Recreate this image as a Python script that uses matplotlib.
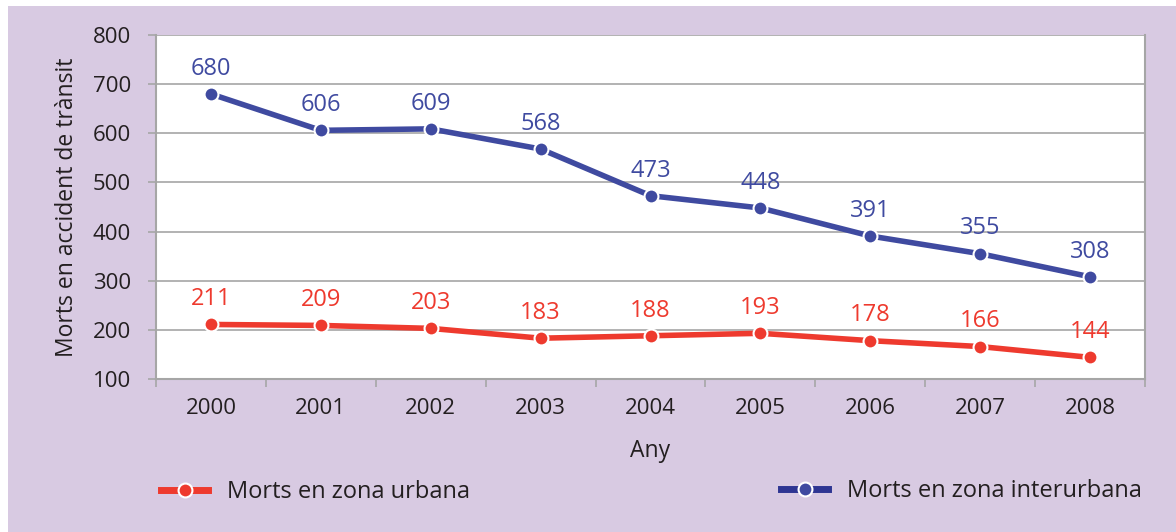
import matplotlib
matplotlib.use("Agg")
import matplotlib.pyplot as plt
from matplotlib.lines import Line2D

years = ["2000", "2001", "2002", "2003", "2004", "2005", "2006", "2007", "2008"]
urbana = [211, 209, 203, 183, 188, 193, 178, 166, 144]
interurbana = [680, 606, 609, 568, 473, 448, 391, 355, 308]
yticks = [100, 200, 300, 400, 500, 600, 700, 800]

plt.rcParams['font.family'] = ['Open Sans', 'DejaVu Sans']
BG = '#D8CAE2'
RED = '#EE3A2E'
BLUE = '#3F4AA0'
TXT = '#231F20'
GRID = '#A6A6A6'

W, H = 1176, 532
fig = plt.figure(figsize=(W/100, H/100), dpi=100, facecolor='white')
fig.patches.append(plt.Rectangle((8/W, 0), 1 - 8/W, 1 - 6/H, transform=fig.transFigure,
                                 facecolor=BG, edgecolor='none', zorder=-10))
ax = fig.add_axes([156/W, 1 - 379/H, (1145-156)/W, (379-35)/H])
ax.set_facecolor('white')

x = list(range(len(years)))
ax.plot(x, interurbana, color=BLUE, lw=4, marker='o', ms=10, mfc=BLUE, mec='white', mew=1.5, zorder=3, solid_capstyle='round')
ax.plot(x, urbana, color=RED, lw=4, marker='o', ms=10, mfc=RED, mec='white', mew=1.5, zorder=3, solid_capstyle='round')

for xi, v in zip(x, interurbana):
    ax.annotate(str(v), (xi, v), xytext=(0, 9.5), textcoords='offset points', ha='center', va='bottom',
                color=BLUE, fontsize=17)
for xi, v in zip(x, urbana):
    ax.annotate(str(v), (xi, v), xytext=(0, 9.5), textcoords='offset points', ha='center', va='bottom',
                color=RED, fontsize=17)

ax.set_xlim(-0.5, len(years) - 0.5)
ax.set_ylim(100, 800)
ax.set_yticks(yticks)
ax.set_yticklabels([str(t) for t in yticks])
ax.yaxis.grid(True, color=GRID, lw=1.2)
ax.set_axisbelow(True)
ax.set_xticks([i - 0.5 for i in range(len(years) + 1)])
ax.set_xticklabels([])
ax.set_xticks(x, minor=True)
ax.set_xticklabels(years, minor=True)
ax.tick_params(axis='x', which='minor', length=0, pad=14, labelsize=16, labelcolor=TXT)
ax.tick_params(axis='x', which='major', length=6, color=GRID, width=1.2, direction='out')
ax.tick_params(axis='y', length=6, color=GRID, width=1.2, direction='out', labelsize=16, labelcolor=TXT, pad=12)
for s in ['left', 'bottom', 'right']:
    ax.spines[s].set_color(GRID)
    ax.spines[s].set_linewidth(1.5)
ax.spines['top'].set_visible(False)

ax.set_xlabel('Any', fontsize=16.5, color=TXT, labelpad=14)
ax.set_ylabel('Morts en accident de trànsit', fontsize=16.5, color=TXT, labelpad=10)

h1 = Line2D([], [], color=RED, lw=5, marker='o', ms=10, mfc=RED, mec='white', mew=1.5)
h2 = Line2D([], [], color='#2E3592', lw=5, marker='o', ms=10, mfc=BLUE, mec='white', mew=1.5)
fig.legend([h1], ['Morts en zona urbana'], loc='center left', bbox_to_anchor=(140/W, 1 - 492/H),
           frameon=False, fontsize=17, handlelength=2, labelcolor=TXT)
fig.legend([h2], ['Morts en zona interurbana'], loc='center left', bbox_to_anchor=(760/W, 1 - 491/H),
           frameon=False, fontsize=17, handlelength=2, labelcolor=TXT)

fig.savefig('out.png', dpi=100, facecolor='white')
